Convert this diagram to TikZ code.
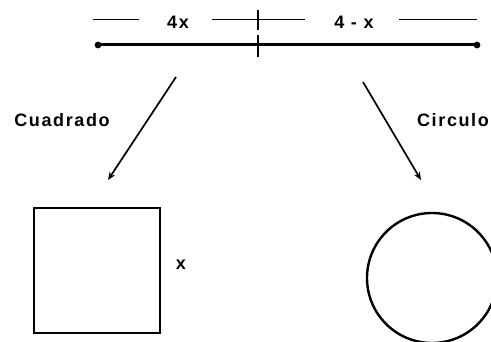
\documentclass[tikz,border=0pt]{standalone}
\usepackage{fontspec}
\setmainfont{Liberation Sans}[BoldFont=Liberation Sans Bold]
\usetikzlibrary{arrows.meta, positioning}

\begin{document}
\begin{tikzpicture}[x=1pt, y=-1pt,
    lbl/.style={font=\bfseries\fontsize{18}{20}\selectfont\addfontfeature{LetterSpace=9},
                inner sep=0pt},
    dimln/.style={line width=1pt},
    bar/.style={line width=3pt},
    tick/.style={line width=1.5pt},
    arr/.style={-{Stealth[length=8pt, width=6.5pt]}, line width=1.7pt},
    shp/.style={line width=2.4pt}
  ]
    \clip (0,0) rectangle (491,342);
    % dimension line on top
    \node[lbl] (fourx) at (178,22) {4x};
    \node[lbl] (fourmx) at (354,22) {4 - x};
    \coordinate (dl) at (93,20);
    \coordinate (dr) at (477,20);
    \coordinate (dm) at (258,20);
    \draw[dimln] (dl) -- (139,20);
    \draw[dimln] (212,20) -- (305,20);
    \draw[dimln] (399,20) -- (dr);
    \draw[tick] (258,10) -- (258,30);
    % the wire
    \coordinate (a) at (98,45);
    \coordinate (b) at (477,45);
    \coordinate (m) at (258,45);
    \draw[bar] (a) -- (b);
    \fill (a) circle (3.4);
    \fill (b) circle (3.4);
    \draw[tick] (258,35) -- (258,57);
    % the two pieces
    \node[lbl] (cuad) at (62,120) {Cuadrado};
    \node[lbl] (circ) at (453,120) {Circulo};
    \coordinate (ls) at (176,77);
    \coordinate (le) at (108,180);
    \coordinate (rs) at (363,82);
    \coordinate (re) at (421,180);
    \draw[arr] (ls) -- (le);
    \draw[arr] (rs) -- (re);
    % square and circle
    \draw[shp] (34,208) rectangle (160,333);
    \node[lbl] (side) at (181,265) {x};
    \node[shp, draw, circle, minimum size=130, inner sep=0pt] (ring) at (432,278) {};
\end{tikzpicture}
\end{document}
